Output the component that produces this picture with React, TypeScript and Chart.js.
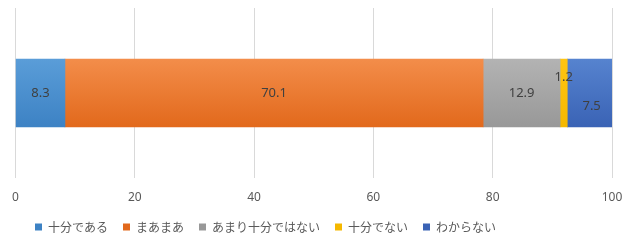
import React, { useEffect, useRef } from "react";
import { Chart, registerables } from "chart.js";

Chart.register(...registerables);

const categories = [""];
const seriesNames = ["十分である", "まあまあ", "あまり十分ではない", "十分でない", "わからない"];
const seriesValues = [[8.3], [70.1], [12.9], [1.2], [7.5]];
const seriesColors = ["#4A90D0", "#ED7D31", "#A5A5A5", "#FFC000", "#4472C4"];
const gradientTop = ["#5A9DD8", "#F38D4A", "#B3B3B3", "#FFC512", "#5683CF"];
const gradientBottom = ["#3D82C4", "#E2691C", "#989898", "#F5B800", "#3A63B5"];
const xTicks = [0, 20, 40, 60, 80, 100];

const labelOffsets = [
  { dx: 0, dy: 0 },
  { dx: 0, dy: 0 },
  { dx: 0, dy: 0 },
  { dx: 0, dy: -16 },
  { dx: 2, dy: 13 },
];

const labelPlugin = {
  id: "barLabels",
  afterLayout(chart: any) {
    if (chart.legend) {
      chart.legend.left = 20;
    }
  },
  afterDatasetsDraw(chart: any) {
    const ctx = chart.ctx;
    ctx.save();
    ctx.font = "13px 'Noto Sans', 'DejaVu Sans', sans-serif";
    ctx.fillStyle = "#404040";
    ctx.textAlign = "center";
    ctx.textBaseline = "middle";
    chart.data.datasets.forEach((ds: any, i: number) => {
      const meta = chart.getDatasetMeta(i);
      meta.data.forEach((el: any, j: number) => {
        const cx = (el.x + el.base) / 2 + labelOffsets[i].dx;
        const cy = el.y + labelOffsets[i].dy;
        ctx.fillText(String(ds.data[j]), cx, cy);
      });
    });
    ctx.restore();
  },
};

export default function App() {
  const ref = useRef<HTMLCanvasElement>(null);
  useEffect(() => {
    const chart = new Chart(ref.current!, {
      type: "bar",
      data: {
        labels: categories,
        datasets: seriesNames.map((name, i) => ({
          label: name,
          data: seriesValues[i],
          backgroundColor: (c: any) => {
            const area = c.chart.chartArea;
            if (!area || !isFinite(area.top) || !isFinite(area.bottom)) return seriesColors[i];
            const mid = (area.top + area.bottom) / 2;
            const g = c.chart.ctx.createLinearGradient(0, mid - 34, 0, mid + 34);
            g.addColorStop(0, gradientTop[i]);
            g.addColorStop(1, gradientBottom[i]);
            return g;
          },
          borderWidth: 0,
          barThickness: 68,
        })),
      },
      options: {
        indexAxis: "y",
        animation: false,
        responsive: true,
        maintainAspectRatio: false,
        layout: { padding: { left: 5, right: 19, top: 8, bottom: 1 } },
        scales: {
          x: {
            stacked: true,
            min: 0,
            max: 100,
            afterBuildTicks: (axis: any) => {
              axis.ticks = xTicks.map((v) => ({ value: v }));
            },
            afterFit: (axis: any) => {
              axis.height = 28;
              axis.paddingRight = 0;
            },
            grid: { color: "#D9D9D9", drawTicks: false },
            border: { display: false },
            ticks: {
              color: "#595959",
              padding: 12,
              font: { size: 12, family: "'Noto Sans', 'DejaVu Sans', sans-serif" },
            },
          },
          y: {
            stacked: true,
            grid: { display: false },
            border: { display: false },
            ticks: { display: false },
          },
        },
        plugins: {
          legend: {
            position: "bottom",
            align: "start",
            labels: {
              boxWidth: 7,
              boxHeight: 7,
              padding: 15,
              color: "#595959",
              font: { size: 12, family: "'Noto Sans CJK JP', sans-serif" },
            },
          },
          tooltip: { enabled: false },
        },
      },
      plugins: [labelPlugin],
    });
    return () => chart.destroy();
  }, []);
  return (
    <div style={{ position: "fixed", left: 0, top: 0, width: 631, height: 244, background: "#fff" }}>
      <canvas ref={ref} />
    </div>
  );
}
